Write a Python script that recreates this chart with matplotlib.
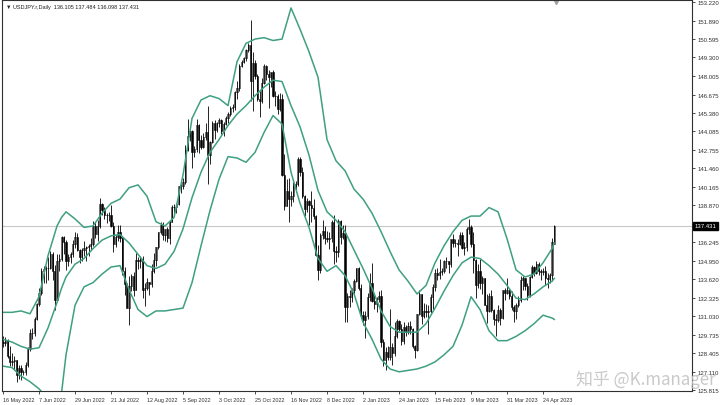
import matplotlib
matplotlib.use("Agg")
import matplotlib.pyplot as plt
import matplotlib.transforms as mtransforms

# USDJPY daily, 16 May 2022 .. 1 May 2023 (one entry per bar)
opens = [129.20, 129.15, 129.35, 128.25, 127.80, 127.85, 127.90, 126.85, 127.35, 127.10,
         127.10, 127.60, 128.70, 129.85, 129.85, 130.85, 131.90, 132.65, 134.25, 134.35,
         134.40, 134.45, 135.45, 134.20, 132.20, 134.95, 135.05, 136.65, 136.25, 134.95,
         135.20, 135.45, 136.15, 136.60, 135.70, 135.20, 135.70, 135.85, 135.90, 136.00,
         136.10, 137.40, 136.85, 137.40, 138.95, 138.55, 138.20, 138.20, 138.20, 137.40,
         136.10, 136.65, 136.95, 136.55, 134.25, 133.30, 131.60, 133.15, 133.85, 132.90,
         135.00, 134.90, 135.10, 132.90, 133.00, 133.45, 133.30, 134.20, 135.00, 135.90,
         136.95, 137.50, 136.75, 137.20, 136.55, 137.70, 138.75, 138.75, 138.95, 140.20,
         140.20, 140.50, 142.75, 143.75, 144.10, 142.60, 142.85, 144.55, 143.45, 142.95,
         143.70, 144.05, 142.40, 143.35, 144.70, 144.15, 144.70, 144.85, 144.10, 144.60,
         145.05, 145.30, 145.70, 145.80, 146.85, 147.15, 148.70, 149.00, 149.25, 149.85,
         150.15, 147.65, 148.90, 148.00, 146.35, 146.25, 147.50, 148.70, 148.15, 147.90,
         148.25, 146.60, 146.60, 145.65, 146.40, 141.00, 138.80, 139.90, 139.30, 139.50,
         140.20, 140.35, 142.10, 141.20, 139.55, 138.60, 139.15, 138.90, 138.65, 138.10,
         135.35, 134.30, 136.75, 137.05, 136.55, 136.50, 136.55, 137.70, 135.60, 135.55,
         137.75, 136.65, 136.90, 131.70, 132.45, 132.40, 132.85, 133.50, 134.40, 133.05,
         131.10, 130.75, 131.05, 132.40, 133.40, 132.10, 131.90, 132.25, 132.45, 129.20,
         127.90, 128.50, 128.15, 128.85, 128.40, 129.60, 130.70, 130.15, 129.25, 130.25,
         129.90, 130.35, 130.10, 128.90, 128.65, 131.15, 132.60, 131.05, 131.40, 131.35,
         131.40, 132.40, 133.10, 134.10, 133.95, 134.15, 134.25, 134.95, 134.90, 134.70,
         136.45, 136.20, 136.20, 136.15, 136.75, 135.85, 135.95, 137.20, 137.35, 136.10,
         135.00, 133.20, 134.25, 133.40, 133.70, 131.85, 131.40, 132.45, 131.50, 130.85,
         130.75, 131.50, 130.90, 132.85, 132.70, 132.85, 132.45, 131.70, 131.40, 131.80,
         132.20, 133.60, 133.70, 133.15, 132.55, 133.80, 134.50, 134.10, 134.70, 134.25,
         134.15, 134.25, 133.70, 133.65, 133.95, 136.105]
highs = [129.60, 129.55, 129.45, 128.95, 128.45, 128.25, 127.95, 127.55, 127.55, 127.20,
         127.80, 128.85, 130.15, 130.20, 130.95, 131.95, 133.00, 134.45, 134.55, 134.55,
         135.20, 135.60, 135.55, 134.65, 135.45, 135.45, 136.70, 136.70, 136.40, 135.40,
         135.55, 136.40, 137.00, 136.90, 135.75, 135.85, 136.35, 136.00, 136.15, 136.55,
         137.75, 137.70, 137.85, 139.40, 139.05, 138.75, 138.35, 138.40, 138.85, 137.65,
         136.75, 137.45, 137.45, 136.60, 134.50, 133.35, 133.90, 134.00, 134.15, 135.50,
         135.20, 135.30, 135.25, 133.35, 133.75, 133.45, 134.70, 135.50, 135.95, 137.00,
         137.70, 137.70, 137.20, 137.30, 137.75, 138.90, 138.95, 139.05, 140.25, 140.40,
         140.80, 143.10, 144.99, 144.40, 144.20, 143.05, 144.95, 144.60, 143.80, 144.00,
         144.70, 145.90, 143.40, 144.80, 144.85, 144.75, 145.05, 144.95, 144.75, 145.20,
         145.45, 145.90, 146.00, 146.90, 147.65, 148.85, 149.10, 149.30, 149.90, 150.30,
         151.95, 149.70, 149.10, 148.15, 146.90, 147.85, 148.85, 148.80, 148.40, 148.30,
         148.40, 146.95, 146.70, 146.80, 146.75, 142.50, 140.75, 140.80, 139.90, 140.50,
         140.60, 142.25, 142.25, 141.60, 139.60, 139.40, 139.20, 139.90, 139.30, 138.15,
         136.05, 136.90, 137.85, 137.40, 137.05, 137.00, 137.85, 138.15, 136.00, 137.90,
         137.80, 137.45, 137.45, 132.65, 132.90, 133.05, 133.65, 134.45, 134.50, 133.30,
         131.40, 131.40, 132.70, 134.05, 134.75, 132.50, 132.35, 132.80, 132.85, 129.40,
         128.85, 128.90, 131.55, 129.10, 130.60, 130.85, 130.75, 130.45, 130.60, 130.40,
         130.60, 130.70, 130.20, 129.00, 131.20, 132.90, 132.60, 131.95, 131.90, 131.80,
         132.60, 133.30, 134.35, 134.40, 135.10, 134.40, 135.00, 135.20, 134.90, 136.50,
         136.85, 136.50, 136.50, 136.95, 136.95, 136.25, 137.30, 137.90, 137.45, 136.95,
         135.05, 134.70, 135.10, 133.85, 133.75, 132.60, 132.65, 132.85, 131.55, 131.15,
         131.80, 131.60, 132.90, 133.00, 133.75, 133.05, 132.80, 131.85, 131.95, 132.45,
         133.85, 133.90, 133.75, 133.35, 133.90, 134.65, 134.55, 134.90, 134.85, 134.35,
         134.45, 134.55, 134.05, 134.10, 136.55, 137.484]
lows = [128.85, 128.95, 128.10, 127.50, 127.50, 127.20, 126.35, 126.60, 126.55, 126.90,
        126.85, 127.45, 128.60, 129.45, 129.65, 130.75, 131.75, 132.55, 133.35, 133.40,
        133.60, 134.35, 133.55, 131.50, 132.15, 134.25, 134.95, 135.40, 134.30, 134.60,
        134.80, 135.20, 135.85, 135.60, 134.75, 134.90, 135.25, 134.95, 135.30, 135.70,
        136.00, 136.55, 136.35, 137.25, 138.15, 137.90, 137.60, 137.75, 137.35, 135.55,
        135.95, 136.35, 136.30, 133.95, 132.50, 131.60, 130.40, 132.80, 132.45, 132.85,
        134.35, 134.45, 132.30, 131.75, 132.85, 132.55, 133.10, 134.10, 134.60, 135.80,
        136.80, 136.40, 136.35, 136.30, 136.15, 137.70, 138.20, 138.35, 138.90, 139.70,
        140.00, 140.40, 142.70, 143.40, 141.50, 142.30, 142.60, 142.55, 142.85, 142.90,
        143.50, 140.35, 141.80, 143.25, 143.55, 144.05, 144.40, 143.90, 143.75, 144.50,
        144.65, 145.20, 145.45, 145.60, 146.40, 146.95, 148.60, 148.90, 149.05, 149.70,
        146.20, 145.50, 147.75, 146.25, 145.10, 146.10, 147.45, 147.70, 145.70, 147.20,
        146.50, 145.85, 145.30, 145.55, 140.90, 138.50, 138.80, 137.70, 138.80, 139.10,
        139.80, 140.25, 140.95, 139.40, 138.10, 138.40, 137.50, 137.70, 137.90, 135.25,
        133.60, 134.10, 136.45, 136.15, 136.25, 135.75, 136.25, 134.70, 134.85, 135.20,
        136.10, 136.45, 130.60, 130.60, 131.65, 132.05, 132.60, 133.45, 132.85, 130.95,
        130.40, 129.50, 130.85, 132.10, 132.05, 131.55, 131.30, 132.05, 128.85, 127.50,
        127.20, 127.95, 127.95, 127.60, 128.20, 129.50, 129.95, 129.00, 129.05, 129.60,
        129.75, 129.80, 128.80, 128.10, 128.60, 131.10, 130.50, 130.90, 130.95, 129.80,
        131.25, 131.55, 132.80, 133.60, 133.65, 133.95, 134.10, 134.40, 134.05, 134.50,
        135.95, 135.95, 135.25, 136.05, 135.80, 135.35, 135.60, 136.85, 135.95, 134.10,
        132.30, 133.05, 132.95, 132.60, 131.80, 130.55, 131.30, 131.30, 130.40, 129.65,
        130.60, 130.40, 130.85, 132.15, 132.60, 132.25, 131.45, 130.65, 130.80, 131.70,
        132.05, 132.90, 132.90, 132.20, 132.40, 133.75, 133.85, 134.00, 133.95, 133.55,
        133.95, 133.25, 133.00, 133.35, 133.50, 136.098]
closes = [129.15, 129.35, 128.25, 127.80, 127.85, 127.90, 126.85, 127.35, 127.10, 127.10,
          127.60, 128.70, 129.85, 129.85, 130.85, 131.90, 132.65, 134.25, 134.35, 134.40,
          134.45, 135.45, 134.20, 132.20, 134.95, 135.05, 136.65, 136.25, 134.95, 135.20,
          135.45, 136.15, 136.60, 135.70, 135.20, 135.70, 135.85, 135.90, 136.00, 136.10,
          137.40, 136.85, 137.40, 138.95, 138.55, 138.20, 138.20, 138.20, 137.40, 136.10,
          136.65, 136.95, 136.55, 134.25, 133.30, 131.60, 133.15, 133.85, 132.90, 135.00,
          134.90, 135.10, 132.90, 133.00, 133.45, 133.30, 134.20, 135.00, 135.90, 136.95,
          137.50, 136.75, 137.20, 136.55, 137.70, 138.75, 138.75, 138.95, 140.20, 140.20,
          140.50, 142.75, 143.75, 144.10, 142.60, 142.85, 144.55, 143.45, 142.95, 143.70,
          144.05, 142.40, 143.35, 144.70, 144.15, 144.70, 144.85, 144.10, 144.60, 145.05,
          145.30, 145.70, 145.80, 146.85, 147.15, 148.70, 149.00, 149.25, 149.85, 150.15,
          147.65, 148.90, 148.00, 146.35, 146.25, 147.50, 148.70, 148.15, 147.90, 148.25,
          146.60, 146.60, 145.65, 146.40, 141.00, 138.80, 139.90, 139.30, 139.50, 140.20,
          140.35, 142.10, 141.20, 139.55, 138.60, 139.15, 138.90, 138.65, 138.10, 135.35,
          134.30, 136.75, 137.05, 136.55, 136.50, 136.55, 137.70, 135.60, 135.55, 137.75,
          136.65, 136.90, 131.70, 132.45, 132.40, 132.85, 133.50, 134.40, 133.05, 131.10,
          130.75, 131.05, 132.40, 133.40, 132.10, 131.90, 132.25, 132.45, 129.20, 127.90,
          128.50, 128.15, 128.85, 128.40, 129.60, 130.70, 130.15, 129.25, 130.25, 129.90,
          130.35, 130.10, 128.90, 128.65, 131.15, 132.60, 131.05, 131.40, 131.35, 131.40,
          132.40, 133.10, 134.10, 133.95, 134.15, 134.25, 134.95, 134.90, 134.70, 136.45,
          136.20, 136.20, 136.15, 136.75, 135.85, 135.95, 137.20, 137.35, 136.10, 135.00,
          133.20, 134.25, 133.40, 133.70, 131.85, 131.40, 132.45, 131.50, 130.85, 130.75,
          131.50, 130.90, 132.85, 132.70, 132.85, 132.45, 131.70, 131.40, 131.80, 132.20,
          133.60, 133.70, 133.15, 132.55, 133.80, 134.50, 134.10, 134.70, 134.25, 134.15,
          134.25, 133.70, 133.65, 133.95, 136.30, 137.431]

# Bollinger bands at these bar numbers
band_idx = [0, 4, 8, 12, 16, 20, 24, 26, 28, 32, 36, 40, 44, 48, 52, 56, 60, 64, 68, 72,
            76, 80, 84, 88, 92, 96, 100, 104, 108, 112, 116, 120, 124, 128, 132, 136, 140,
            144, 148, 152, 156, 160, 164, 168, 172, 176, 180, 184, 188, 192, 196, 200, 204,
            208, 212, 216, 220, 224, 228, 232, 236, 240, 244, 245]
band_upper = [131.3, 131.3, 131.4, 131.2, 132.4, 135.3, 137.4, 138.0, 138.4, 137.9, 137.3,
              137.4, 138.3, 139.0, 139.3, 140.1, 140.3, 139.5, 137.7, 137.4, 138.0, 141.0,
              145.0, 146.3, 146.6, 146.4, 145.9, 149.0, 150.3, 150.6, 150.7, 150.5, 150.6,
              152.8, 151.3, 149.7, 147.9, 143.5, 142.0, 141.3, 140.0, 139.3, 138.3, 137.0,
              135.6, 134.3, 133.5, 132.6, 133.2, 134.8, 136.0, 137.0, 137.8, 138.1, 138.1,
              138.7, 138.4, 136.5, 134.3, 133.8, 134.0, 134.8, 135.8, 136.2]
band_mid = [129.4, 129.2, 128.9, 128.7, 128.8, 130.2, 132.0, 133.0, 133.8, 134.7, 135.1,
            135.8, 136.4, 136.7, 136.8, 136.2, 135.4, 134.6, 134.4, 134.7, 135.6, 137.2,
            139.4, 141.2, 142.6, 143.5, 144.5, 145.3, 145.9, 146.6, 147.2, 147.7, 147.6,
            145.9, 144.4, 142.4, 139.9, 138.4, 137.8, 137.0, 135.7, 134.4, 133.0, 131.4,
            130.3, 129.9, 129.9, 129.9, 130.5, 131.6, 132.8, 133.9, 134.8, 135.2, 135.1,
            134.6, 134.0, 133.2, 132.3, 132.2, 132.6, 133.1, 133.5, 133.7]
band_lower = [127.5, 127.4, 126.8, 126.4, 125.9, 125.2, 125.3, 125.6, 128.3, 131.8, 133.1,
              133.4, 134.0, 134.5, 134.6, 132.9, 131.5, 131.0, 131.4, 131.4, 131.5, 131.6,
              133.4, 136.0, 138.5, 140.7, 142.3, 142.2, 141.9, 142.6, 144.0, 145.2, 144.6,
              141.2, 139.0, 137.3, 135.1, 134.2, 134.6, 133.9, 132.6, 130.6, 129.4, 128.0,
              127.3, 127.1, 127.2, 127.3, 127.5, 127.8, 128.3, 128.9, 130.4, 132.4, 131.5,
              130.0, 129.3, 129.3, 129.6, 130.0, 130.5, 131.1, 130.9, 130.8]

date_labels = ['16 May 2022', '7 Jun 2022', '29 Jun 2022', '21 Jul 2022', '12 Aug 2022',
               '5 Sep 2022', '3 Oct 2022', '25 Oct 2022', '16 Nov 2022', '8 Dec 2022',
               '2 Jan 2023', '24 Jan 2023', '15 Feb 2023', '9 Mar 2023', '31 Mar 2023',
               '24 Apr 2023']
price_ticks = [153.220, 151.890, 150.595, 149.300, 148.005, 146.675, 145.380, 144.085,
               142.755, 141.460, 140.165, 138.870, 136.245, 134.950, 133.620, 132.325,
               131.030, 129.735, 128.405, 127.110, 125.815]
last_price = 137.431

band_color = '#3f9f83'
font = ['Liberation Sans', 'DejaVu Sans']

fig = plt.figure(figsize=(7.2, 4.06), dpi=100)
ax = fig.add_axes([2 / 720, 14 / 406, 690 / 720, 391 / 406])

# candles
n = len(closes)
for i in range(n):
    o, h, l, c = opens[i], highs[i], lows[i], closes[i]
    ax.vlines(i, l, h, color='black', lw=0.6)
    body = abs(c - o)
    if body < 0.04:
        ax.hlines(c, i - 0.3, i + 0.3, color='black', lw=0.6)
    else:
        ax.bar(i, body, bottom=min(o, c), width=0.6,
               color='white' if c >= o else 'black', edgecolor='black', lw=0.4)

# bands
for vals in (band_upper, band_mid, band_lower):
    ax.plot(band_idx, vals, color=band_color, lw=1.1)

# last price line
ax.axhline(last_price, color='#c8c8c8', lw=0.8, zorder=0)

ax.set_xlim(-0.45, 306.2)
ax.set_ylim(125.745, 153.36)

ax.yaxis.tick_right()
ax.set_yticks(price_ticks)
ax.set_yticklabels(['%.3f' % v for v in price_ticks])
ax.tick_params(axis='y', length=2, width=0.6, pad=2, labelsize=4.3, colors='#303030')
ax.set_xticks([16 * k for k in range(len(date_labels))])
ax.set_xticklabels(date_labels, ha='left')
ax.tick_params(axis='x', length=2.5, width=0.6, pad=1.5, labelsize=3.9, colors='#303030')
for lab in ax.get_xticklabels() + ax.get_yticklabels():
    lab.set_family(font)
for s in ax.spines.values():
    s.set_color('#303030')
    s.set_linewidth(0.8)

# last price tag on the axis
trans = mtransforms.blended_transform_factory(ax.transAxes, ax.transData)
ax.text(1.004, last_price, '%.3f' % last_price, transform=trans, ha='left', va='center',
        fontsize=4.3, color='white', family=font,
        bbox=dict(boxstyle='square,pad=0.25', fc='black', ec='black'))

# chart header
ax.text(0.006, 0.99, '\u25bc USDJPY.r,Daily  136.105 137.484 136.098 137.431',
        transform=ax.transAxes, ha='left', va='top', fontsize=4.0, color='#202020',
        family=font)

# chart shift marker
ax.plot([245.8], [153.25], marker='v', ms=3, color='#a0a0a0', clip_on=False)

# watermark
fig.text(576 / 720, 1 - 389 / 406, '知乎 @K.manager', fontsize=12.2, color='#c4c4c4',
         family=['Noto Sans CJK SC', 'DejaVu Sans'], ha='left', va='bottom', alpha=0.9)

fig.savefig('out.png', dpi=100)
